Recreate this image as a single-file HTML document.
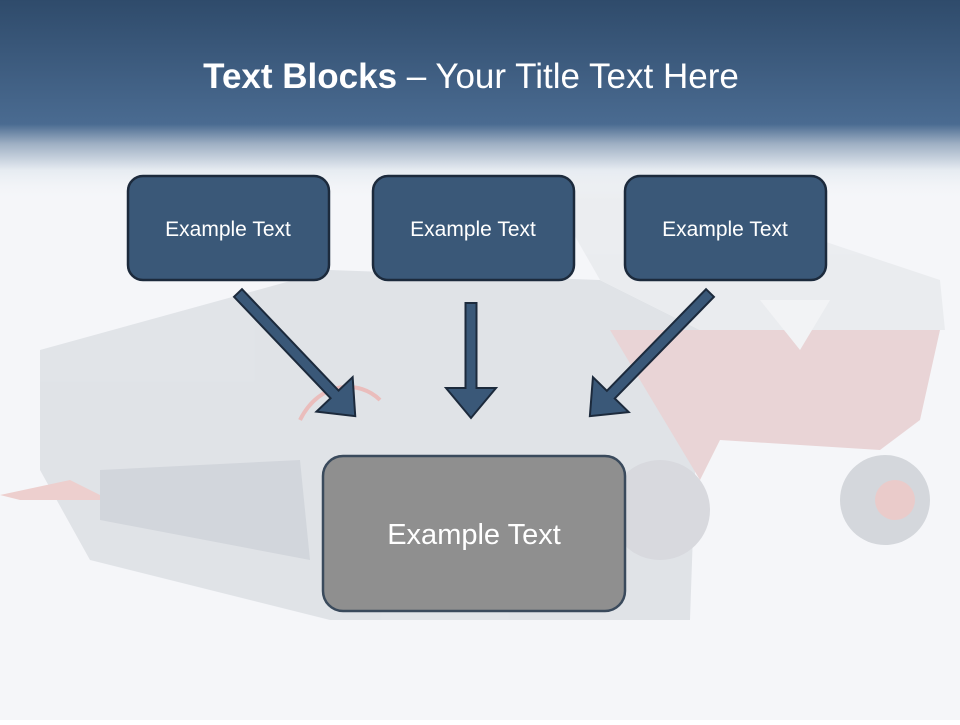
<!DOCTYPE html>
<html><head><meta charset="utf-8"><style>
body{margin:0;width:960px;height:720px;overflow:hidden;font-family:"Liberation Sans",sans-serif;}
</style></head><body>
<svg width="960" height="720" xmlns="http://www.w3.org/2000/svg">
<defs>
<linearGradient id="hd" x1="0" y1="0" x2="0" y2="1">
<stop offset="0" stop-color="#2f4b6b"/>
<stop offset="0.62" stop-color="#4a6b91"/>
<stop offset="0.72" stop-color="#9fb0c4"/>
<stop offset="0.85" stop-color="#e6ebf1"/>
<stop offset="1" stop-color="#f4f6f9" stop-opacity="0"/>
</linearGradient>
</defs>
<rect width="960" height="720" fill="#f5f6f9"/>
<g opacity="0.85">
<path d="M40 350 L330 270 L600 280 L700 330 L690 620 L330 620 L90 560 L40 470 Z" fill="#dde0e5"/>
<path d="M520 140 L640 135 L700 200 L940 280 L945 330 L700 330 L600 280 Z" fill="#e9ebee"/>
<path d="M610 330 L940 330 L920 420 L880 450 L720 440 L700 480 Z" fill="#e7cfd0"/>
<path d="M760 300 L830 300 L800 350 Z" fill="#f2f3f5"/>
<circle cx="885" cy="500" r="45" fill="#cfd2d7"/>
<circle cx="895" cy="500" r="20" fill="#e9c4c2"/>
<circle cx="660" cy="510" r="50" fill="#d3d5da"/>
<path d="M0 495 L70 480 L110 500 L20 500 Z" fill="#ecc9c7"/>
<path d="M100 470 L300 460 L310 560 L100 520 Z" fill="#cdd1d7"/>
<path d="M300 420 C320 380,360 380,380 400" stroke="#e9b4b2" stroke-width="4" fill="none"/>
</g>
<rect width="960" height="200" fill="url(#hd)"/>
<text x="471" y="88" text-anchor="middle" font-size="35" fill="#fff" font-family="Liberation Sans, sans-serif"><tspan font-weight="bold">Text Blocks</tspan> – Your Title Text Here</text>
<g fill="#3a5878" stroke="#1c2a3c" stroke-width="2.5">
<rect x="128" y="176" width="201" height="104" rx="15"/>
<rect x="373" y="176" width="201" height="104" rx="15"/>
<rect x="625" y="176" width="201" height="104" rx="15"/>
</g>
<g fill="#fff" font-size="21" text-anchor="middle">
<text x="228" y="236">Example Text</text>
<text x="473" y="236">Example Text</text>
<text x="725" y="236">Example Text</text>
</g>
<g fill="#3a5878" stroke="#1c2a3c" stroke-width="2">
<polygon transform="translate(238,293) rotate(-43.6)" points="-5.5,0 5.5,0 5.5,140 25,140 0,170 -25,140 -5.5,140"/>
<polygon transform="translate(471,303)" points="-5.5,0 5.5,0 5.5,85 25,85 0,115 -25,85 -5.5,85"/>
<polygon transform="translate(710,293) rotate(44.3)" points="-5.5,0 5.5,0 5.5,142 25,142 0,172 -25,142 -5.5,142"/>
</g>
<rect x="323" y="456" width="302" height="155" rx="20" fill="#8f8f8f" stroke="#3a4a5c" stroke-width="2.5"/>
<text x="474" y="544" text-anchor="middle" font-size="29" fill="#fff">Example Text</text>
</svg>
</body></html>
